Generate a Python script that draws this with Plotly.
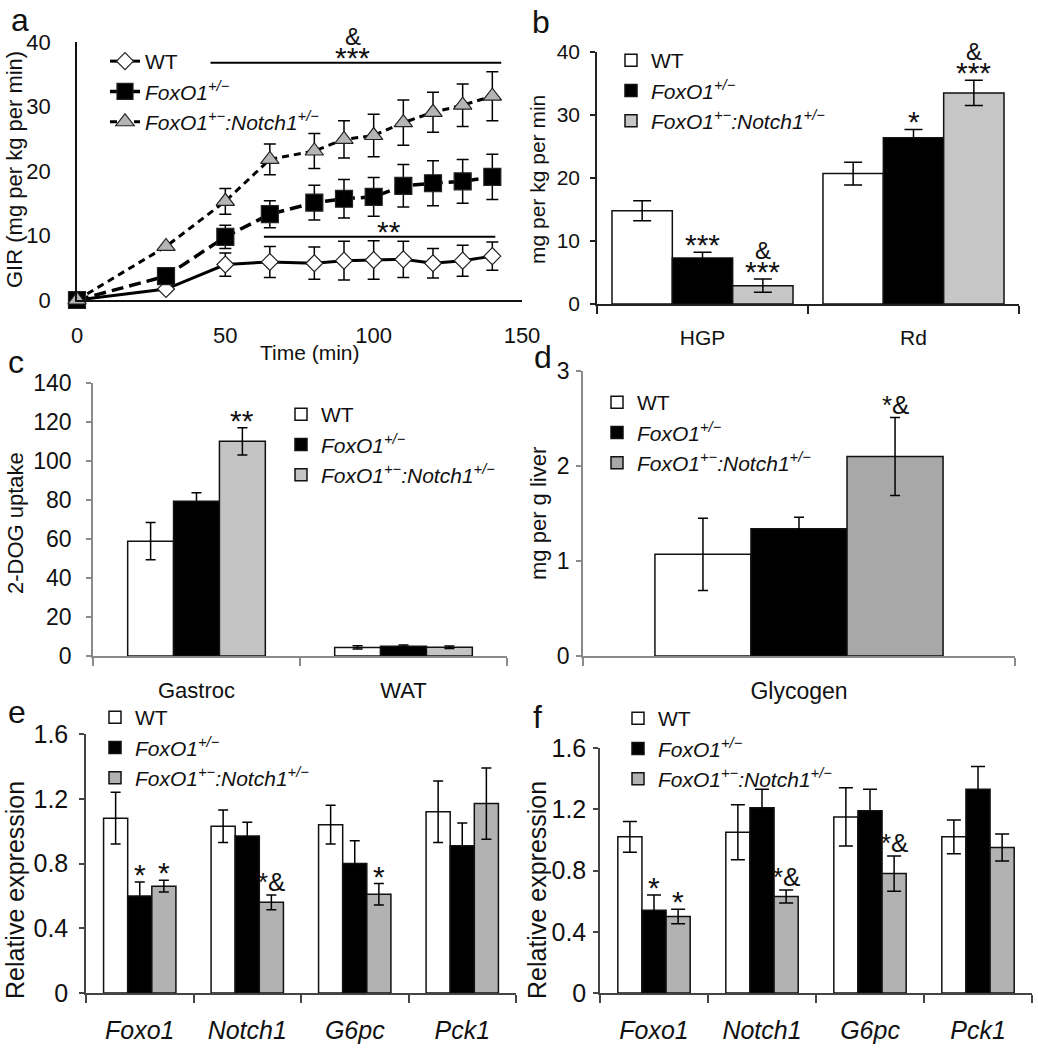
import plotly.graph_objects as go

W, H = 1038, 1050
FONT = "Liberation Sans, Arial, sans-serif"

# ---- data -----------------------------------------------------------
names = ["WT", "<i>FoxO1<sup>+/−</sup></i>", "<i>FoxO1<sup>+−</sup>:Notch1<sup>+/−</sup></i>"]

# a: GIR during clamp
time = [0, 30, 50, 65, 80, 90, 100, 110, 120, 130, 140]
a_wt = [0, 1.7, 5.5, 5.9, 5.7, 6.1, 6.2, 6.3, 5.7, 6.1, 6.8]
a_wt_err = [None, None, 1.8, 2.4, 2.5, 3.0, 3.0, 2.8, 2.3, 2.4, 2.2]
a_fox = [0, 3.7, 9.8, 13.3, 15.1, 15.7, 16.0, 17.7, 18.1, 18.4, 19.1]
a_fox_err = [None, None, 1.8, 2.1, 2.7, 3.0, 3.0, 3.3, 3.5, 3.4, 3.5]
a_dko = [0, 8.3, 15.3, 21.8, 23.1, 24.9, 25.5, 27.5, 29.1, 30.2, 31.6]
a_dko_err = [None, None, 2.0, 2.4, 2.7, 2.9, 3.3, 3.5, 3.1, 3.3, 3.8]
a_sig_x0 = [45, 63]
a_sig_x1 = [143, 141]
a_sig_y = [36.8, 9.8]
a_sig_text = ["***", "**"]
a_sig_tx = [93, 105]
a_sig_amp = ["&", ""]

# b: HGP / Rd
b_cats = ["HGP", "Rd"]
b_wt, b_wt_err = [14.8, 20.7], [1.6, 1.8]
b_fox, b_fox_err = [7.3, 26.4], [0.9, 1.3]
b_dko, b_dko_err = [2.9, 33.5], [1.05, 2.0]
b_stars = [["", ""], ["***", "*"], ["***", "***"]]
b_amp = [["", ""], ["", ""], ["&", "&"]]

# c: 2-DOG uptake
c_cats = ["Gastroc", "WAT"]
c_wt, c_wt_err = [58.9, 4.4], [9.5, 0.8]
c_fox, c_fox_err = [79.4, 5.0], [4.3, 0.6]
c_dko, c_dko_err = [110.1, 4.5], [7.0, 0.6]
c_stars = [["", ""], ["", ""], ["**", ""]]

# d: glycogen
d_cats = ["Glycogen"]
d_wt, d_wt_err = [1.07], [0.38]
d_fox, d_fox_err = [1.34], [0.12]
d_dko, d_dko_err = [2.10], [0.41]
d_stars = [[""], [""], ["*&"]]

# e / f: relative expression
genes = ["Foxo1", "Notch1", "G6pc", "Pck1"]
e_wt, e_wt_err = [1.08, 1.03, 1.04, 1.12], [0.16, 0.10, 0.12, 0.19]
e_fox, e_fox_err = [0.60, 0.97, 0.80, 0.91], [0.085, 0.085, 0.14, 0.14]
e_dko, e_dko_err = [0.66, 0.56, 0.61, 1.17], [0.036, 0.045, 0.066, 0.22]
e_stars = [["", "", "", ""], ["*", "", "", ""], ["*", "*&", "*", ""]]

f_wt, f_wt_err = [1.02, 1.05, 1.15, 1.02], [0.10, 0.18, 0.19, 0.11]
f_fox, f_fox_err = [0.54, 1.21, 1.19, 1.33], [0.10, 0.12, 0.14, 0.15]
f_dko, f_dko_err = [0.50, 0.63, 0.78, 0.95], [0.047, 0.042, 0.115, 0.088]
f_stars = [["", "", "", ""], ["*", "", "", ""], ["*", "*&", "*&", ""]]


def xd(p0, p1):
    return [p0 / W, p1 / W]


def yd(top, bottom):
    return [1 - bottom / H, 1 - top / H]


def mark_font(s):
    # lone asterisks are drawn bigger than the "*&" combos
    return dict(size=30 if set(s) == {"*"} else 26)


fig = go.Figure()
annotations = []
shapes = []

# ---- panel a --------------------------------------------------------
line_specs = [
    (a_wt, a_wt_err, "diamond", "white", 13, "solid", 3),
    (a_fox, a_fox_err, "square", "black", 17, "12px,6px", 3.5),
    (a_dko, a_dko_err, "triangle-up", "#b5b5b5", 16, "7px,5px", 3),
]
for name, (yv, err, sym, col, size, dash, lw) in zip(names, line_specs):
    fig.add_trace(go.Scatter(
        x=time, y=yv, name=name, mode="lines+markers", cliponaxis=False,
        line=dict(color="black", width=lw, dash=dash),
        marker=dict(symbol=sym, color=col, size=size, line=dict(color="#222", width=1.2)),
        error_y=dict(type="data", array=err, color="black", thickness=1.5, width=6),
        xaxis="x", yaxis="y", legend="legend"))

for x0, x1, y, t, tx, amp in zip(a_sig_x0, a_sig_x1, a_sig_y, a_sig_text, a_sig_tx, a_sig_amp):
    shapes.append(dict(type="line", xref="x", yref="y", x0=x0, x1=x1, y0=y, y1=y,
                       line=dict(color="black", width=2)))
    annotations.append(dict(xref="x", yref="y", x=tx, y=y, text=t, showarrow=False,
                            yanchor="bottom", yshift=-13, font=mark_font(t)))
    if amp:
        annotations.append(dict(xref="x", yref="y", x=tx, y=y, text=amp, showarrow=False,
                                yanchor="bottom", yshift=11, font=dict(size=24)))

# ---- bar panels -----------------------------------------------------
bar_panels = [
    # axis suffix, cats, series, errs, stars, amps, group frac, gray, err cap
    ("2", b_cats, [b_wt, b_fox, b_dko], [b_wt_err, b_fox_err, b_dko_err], b_stars, b_amp, 0.858, "#c6c6c6", 9),
    ("3", c_cats, [c_wt, c_fox, c_dko], [c_wt_err, c_fox_err, c_dko_err], c_stars, None, 0.665, "#c4c4c4", 5),
    ("4", d_cats, [d_wt, d_fox, d_dko], [d_wt_err, d_fox_err, d_dko_err], d_stars, None, 0.667, "#a8a8a8", 5),
    ("5", genes, [e_wt, e_fox, e_dko], [e_wt_err, e_fox_err, e_dko_err], e_stars, None, 0.673, "#b2b2b2", 5),
    ("6", genes, [f_wt, f_fox, f_dko], [f_wt_err, f_fox_err, f_dko_err], f_stars, None, 0.67, "#b2b2b2", 7),
]
for ax, cats, series, errs, stars, amps, gf, gray, cap in bar_panels:
    idx = list(range(len(cats)))
    w = gf / 3
    fills = ["white", "black", gray]
    for k, (vals, err, fill, name) in enumerate(zip(series, errs, fills, names)):
        fig.add_trace(go.Bar(
            x=idx, y=vals, name=name, width=w, offset=-gf / 2 + k * w,
            marker=dict(color=fill, line=dict(color="#111", width=1.5)),
            error_y=dict(type="data", array=err, color="black", thickness=1.5, width=cap),
            xaxis="x" + ax, yaxis="y" + ax, legend="legend" + ax))
        for i in idx:
            s = stars[k][i]
            xc = i - gf / 2 + (k + 0.5) * w
            top = vals[i] + err[i]
            if s:
                annotations.append(dict(xref="x" + ax, yref="y" + ax, x=xc, y=top, text=s,
                                        showarrow=False, yanchor="bottom",
                                        yshift=-11 if set(s) == {"*"} else -4,
                                        font=mark_font(s)))
            if amps and amps[k][i]:
                annotations.append(dict(xref="x" + ax, yref="y" + ax, x=xc, y=top, text=amps[k][i],
                                        showarrow=False, yanchor="bottom", yshift=13,
                                        font=dict(size=24)))

# ---- axes -----------------------------------------------------------
def yaxis(dom, rng, dtick, anchor, color, fs, standoff, ticks="outside"):
    return dict(domain=dom, range=rng, dtick=dtick, anchor=anchor, showline=True, linecolor=color,
                linewidth=1.5, ticks=ticks, ticklen=5, tickwidth=1.5, tickcolor=color, showgrid=False,
                zeroline=False, tickfont=dict(size=fs), ticklabelstandoff=standoff)


def xcat(dom, cats, anchor, color, fs, italic=False):
    n = len(cats)
    txt = ["<i>%s</i>" % c if italic else c for c in cats]
    return dict(domain=dom, anchor=anchor, range=[-0.5, n - 0.5], tickmode="array",
                tickvals=list(range(n)), ticktext=txt, ticks="", showline=True, linecolor=color,
                linewidth=1.5, showgrid=False, zeroline=False, tickfont=dict(size=fs),
                ticklabelstandoff=14,
                minor=dict(tickmode="array", tickvals=[i - 0.5 for i in range(n + 1)],
                           ticks="outside", ticklen=8, tickwidth=1.5, tickcolor=color))


legend_common = dict(font=dict(size=21), bgcolor="rgba(0,0,0,0)", xanchor="left", yanchor="top",
                     tracegroupgap=0)

fig.update_layout(
    width=W, height=H, margin=dict(l=0, r=0, t=0, b=0, autoexpand=False),
    paper_bgcolor="white", plot_bgcolor="white", barmode="overlay",
    font=dict(family=FONT, color="#111", size=20),
    xaxis=dict(domain=xd(77, 522), anchor="y", range=[0, 150], tickvals=[0, 50, 100, 150],
               showline=True, linecolor="#111", linewidth=2, ticks="", showgrid=False,
               zeroline=False, tickfont=dict(size=22), ticklabelstandoff=15),
    yaxis=yaxis(yd(42, 300), [0, 40], 10, "x", "#111", 22, 20, ticks=""),
    xaxis2=xcat(xd(597, 1019), b_cats, "y2", "#222", 21),
    yaxis2=yaxis(yd(52, 304), [0, 40], 10, "x2", "#222", 21, 6),
    xaxis3=xcat(xd(93, 507), c_cats, "y3", "#8a8a8a", 22),
    yaxis3=yaxis(yd(383, 656), [0, 140], 20, "x3", "#8a8a8a", 23, 10),
    xaxis4=xcat(xd(583, 1015), d_cats, "y4", "#8a8a8a", 23),
    yaxis4=yaxis(yd(371, 656), [0, 3], 1, "x4", "#8a8a8a", 23, 2),
    xaxis5=xcat(xd(86, 516), genes, "y5", "#444", 25, italic=True),
    yaxis5=yaxis(yd(734, 993), [0, 1.6], 0.4, "x5", "#444", 25, 6),
    xaxis6=xcat(xd(600, 1032), genes, "y6", "#444", 25, italic=True),
    yaxis6=yaxis(yd(748, 993), [0, 1.6], 0.4, "x6", "#444", 25, 2),
    legend=dict(x=105 / W, y=1 - 41 / H, **legend_common),
    legend2=dict(x=611 / W, y=1 - 40 / H, **legend_common),
    legend3=dict(x=281 / W, y=1 - 394 / H, **legend_common),
    legend4=dict(x=597 / W, y=1 - 382 / H, **legend_common),
    legend5=dict(x=95 / W, y=1 - 697 / H, **legend_common),
    legend6=dict(x=618 / W, y=1 - 698 / H, **legend_common),
)

# axis titles and panel letters
titles = [
    ("GIR (mg per kg per min)", 15, 170, 22),
    ("mg per kg per min", 537, 180, 21),
    ("2-DOG uptake", 15, 523, 22),
    ("mg per g liver", 538, 513, 22),
    ("Relative expression", 15, 890, 25),
    ("Relative expression", 537, 890, 25),
]
for t, px, py, fs in titles:
    annotations.append(dict(xref="paper", yref="paper", x=px / W, y=1 - py / H, text=t,
                            xanchor="center", yanchor="middle", textangle=-90, showarrow=False,
                            font=dict(size=fs)))
annotations.append(dict(xref="paper", yref="paper", x=310 / W, y=1 - 352 / H, text="Time (min)",
                        xanchor="center", yanchor="middle", showarrow=False, font=dict(size=21)))
letters = [("a", 20, 20), ("b", 541, 22), ("c", 16, 362), ("d", 543, 357), ("e", 17, 712), ("f", 537, 717)]
for t, px, py in letters:
    annotations.append(dict(xref="paper", yref="paper", x=px / W, y=1 - py / H, text=t,
                            xanchor="center", yanchor="middle", showarrow=False, font=dict(size=32)))

fig.update_layout(annotations=annotations, shapes=shapes)
# the page's default body margin would shift the figure by 8px
fig.write_html("out.html", config={"displayModeBar": False},
               post_script="document.body.style.margin='0';")
